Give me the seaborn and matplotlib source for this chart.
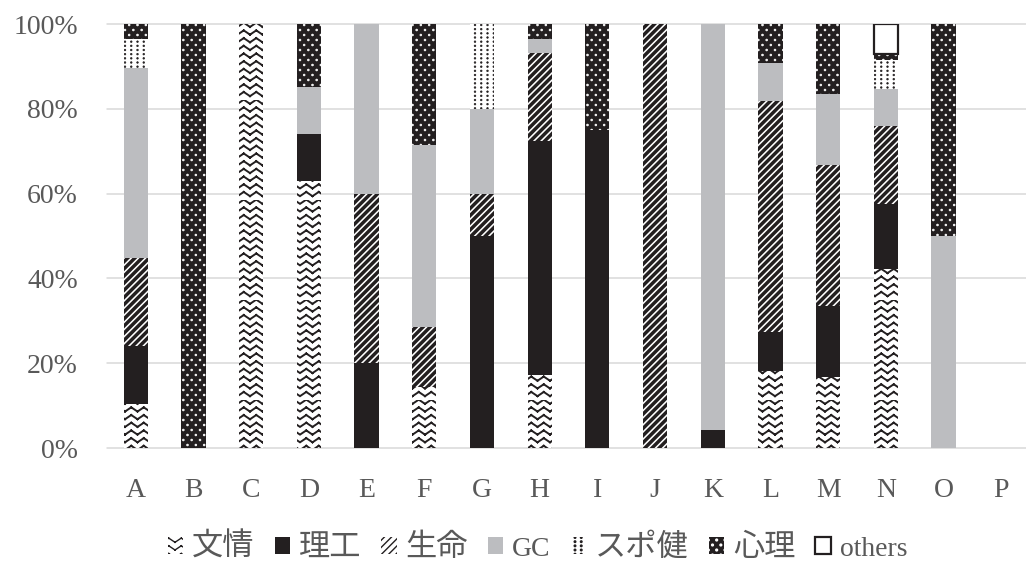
import numpy as np
import pandas as pd
import matplotlib
matplotlib.use("Agg")
import matplotlib.pyplot as plt
import matplotlib.patches as mpatches
from matplotlib import hatch as mhatch
from matplotlib.path import Path
import seaborn as sns

# ---------------------------------------------------------------- data (%)
categories = list("ABCDEFGHIJKLMNOP")
bunjo  = [10.3, 0, 100, 63.0, 0, 14.3, 0, 17.2, 0, 0, 0, 18.2, 16.7, 42.1, 0, 0]
riko   = [13.8, 0, 0, 11.1, 20, 0, 50, 55.2, 75, 0, 4.2, 9.1, 16.7, 15.4, 0, 0]
seimei = [20.7, 0, 0, 0, 40, 14.3, 10, 20.7, 0, 100, 0, 54.5, 33.3, 18.5, 0, 0]
gc     = [44.8, 0, 0, 11.1, 40, 42.9, 20, 3.4, 0, 0, 95.8, 9.1, 16.7, 8.6, 50, 0]
spoken = [6.9, 0, 0, 0, 0, 0, 20, 0, 0, 0, 0, 0, 0, 7.0, 0, 0]
shinri = [3.4, 100, 0, 14.8, 0, 28.6, 0, 3.4, 25, 0, 0, 9.1, 16.7, 1.4, 50, 0]
others = [0, 0, 0, 0, 0, 0, 0, 0, 0, 0, 0, 0, 0, 7.0, 0, 0]
series_names = ["文情", "理工", "生命", "GC", "スポ健", "心理", "others"]
series_values = [bunjo, riko, seimei, gc, spoken, shinri, others]
y_ticks = [0, 20, 40, 60, 80, 100]

# ---------------------------------------------------------------- hatches
class ZigZagHatch:
    """Rows of small zigzags ('x')."""
    rows, periods, amp = 13, 8, 0.042

    def __init__(self, hatch, density):
        self.num_vertices = self.rows * self.periods * 4 if "x" in hatch else 0

    def set_vertices_and_codes(self, vertices, codes):
        ys = (np.arange(self.rows) + 0.5) / self.rows
        xs = np.arange(self.periods) / self.periods
        half = 0.5 / self.periods
        Y, X = np.meshgrid(ys, xs, indexing="ij")
        X, Y = X.ravel(), Y.ravel()
        v = np.empty((X.size, 4, 2))
        v[:, 0] = np.c_[X, Y]
        v[:, 1] = np.c_[X + half, Y + self.amp]
        v[:, 2] = np.c_[X + half, Y + self.amp]
        v[:, 3] = np.c_[X + 2 * half, Y]
        vertices[:] = v.reshape(-1, 2)
        codes[0::2] = Path.MOVETO
        codes[1::2] = Path.LINETO


class StripeHatch:
    """Dense rising diagonal stripes ('/')."""
    m = 14

    def __init__(self, hatch, density):
        self.num_vertices = (2 * self.m + 1) * 2 if "/" in hatch else 0

    def set_vertices_and_codes(self, vertices, codes):
        c = np.arange(-self.m, self.m + 1) / self.m
        vertices[0::2] = np.c_[np.zeros_like(c), c]
        vertices[1::2] = np.c_[np.ones_like(c), 1 + c]
        codes[0::2] = Path.MOVETO
        codes[1::2] = Path.LINETO


class DotHatch:
    char, cols, rows, radius, stagger = ".", 22, 24, 0.008, False

    def _centers(self):
        pts = []
        for i in range(self.rows + 1):
            y = i / self.rows
            if self.stagger and i % 2:
                xs = (np.arange(self.cols) + 0.5) / self.cols
            else:
                xs = np.arange(self.cols + 1) / self.cols
            pts += [(x, y) for x in xs]
        return np.array(pts)

    def __init__(self, hatch, density):
        self.circle = Path.unit_circle()
        if self.char in hatch:
            self.centers = self._centers()
            self.num_vertices = len(self.centers) * len(self.circle.vertices)
        else:
            self.num_vertices = 0

    def set_vertices_and_codes(self, vertices, codes):
        cv = self.circle.vertices * self.radius
        v = self.centers[:, None, :] + cv[None, :, :]
        vertices[:] = v.reshape(-1, 2)
        codes[:] = np.tile(self.circle.codes, len(self.centers))


class FineDotHatch(DotHatch):
    char, cols, rows, radius, stagger = ".", 16, 24, 0.008, False


class CoarseDotHatch(DotHatch):
    char, cols, rows, radius, stagger = "o", 12, 20, 0.009, True


mhatch._hatch_types[:] = [ZigZagHatch, StripeHatch, FineDotHatch, CoarseDotHatch]

# ---------------------------------------------------------------- styles
dark = "#231f20"
grey = "#bcbdc0"
styles = [
    dict(face="white", edge=dark, hatch="x", lw=0, hlw=1.4),
    dict(face=dark, edge=dark, hatch=None, lw=0, hlw=1.0),
    dict(face="white", edge=dark, hatch="/", lw=0, hlw=2.5),
    dict(face=grey, edge=grey, hatch=None, lw=0, hlw=1.0),
    dict(face="white", edge=dark, hatch=".", lw=0, hlw=0.5),
    dict(face=dark, edge="white", hatch="o", lw=0, hlw=0.5),
    dict(face="white", edge=dark, hatch=None, lw=1.6, hlw=1.0),
]

sns.set_style("white")
serif_jp = ["Liberation Serif", "Noto Sans CJK JP", "DejaVu Sans"]
plt.rcParams["font.family"] = serif_jp

fig = plt.figure(figsize=(10.26, 5.65), dpi=100)
ax = fig.add_axes([107 / 1026, 117 / 565, 923 / 1026, 424 / 565])

df = pd.DataFrame({"category": categories})
for name, vals in zip(series_names, series_values):
    df[name] = vals

bottom = np.zeros(len(categories))
handles = []
for name, vals, st in zip(series_names, series_values, styles):
    with plt.rc_context({"hatch.linewidth": st["hlw"]}):
        sns.barplot(data=df, x="category", y=name, order=categories,
                    bottom=bottom.copy(), width=0.42, errorbar=None,
                    saturation=1, color=st["face"], facecolor=st["face"],
                    edgecolor=st["edge"], hatch=st["hatch"],
                    linewidth=st["lw"], zorder=2, ax=ax)
        handles.append(mpatches.Patch(facecolor=st["face"], edgecolor=st["edge"],
                                      hatch=st["hatch"], linewidth=st["lw"],
                                      label=name))
    # zero-height segments draw nothing
    for p in ax.containers[-1].patches:
        if p.get_height() == 0:
            p.set_linewidth(0)
    bottom += np.asarray(vals, dtype=float)

# ---------------------------------------------------------------- axes
ax.set_ylim(0, 100)
ax.set_xlim(-0.5, len(categories) - 0.5)
ax.set_yticks(y_ticks)
ax.set_yticklabels([f"{t}%" for t in y_ticks])
ax.set_xlabel("")
ax.set_ylabel("")
for s in ax.spines.values():
    s.set_visible(False)
ax.yaxis.grid(True, color="#d9d9d9", linewidth=1.1, zorder=0)
ax.xaxis.grid(False)
ax.set_axisbelow(True)
for gl in ax.get_ygridlines():
    gl.set_clip_on(False)
ax.tick_params(axis="both", length=0, labelsize=20, labelcolor="#595959")
ax.tick_params(axis="y", pad=21)
ax.tick_params(axis="x", pad=21.5)

leg = fig.legend(handles=handles, loc="center", bbox_to_anchor=(0.524, 0.03),
                 ncol=7, frameon=False, fontsize=20, handlelength=0.55,
                 handleheight=0.55, handletextpad=0.32, columnspacing=0.72,
                 labelcolor="#595959", borderaxespad=0, borderpad=0)
for t in leg.get_texts():
    if not t.get_text().isascii():
        t.set_fontsize(22.5)

fig.savefig("out.png", dpi=100)
